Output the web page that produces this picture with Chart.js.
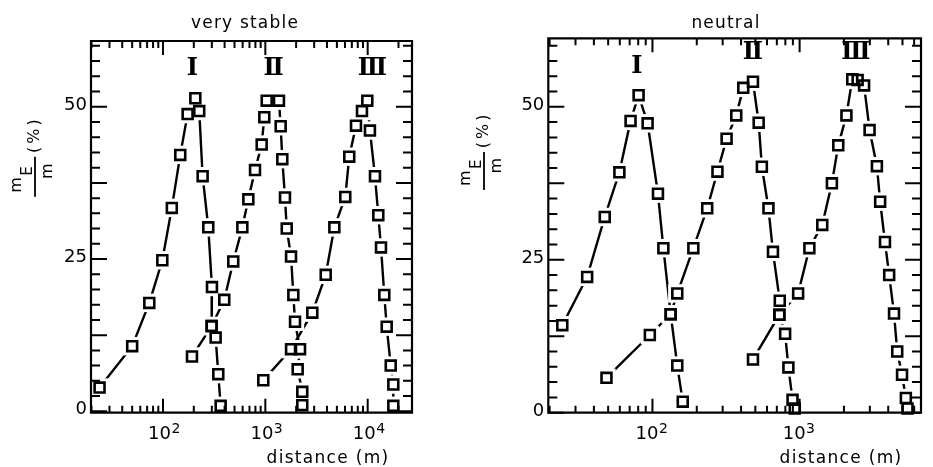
<!DOCTYPE html>
<html><head><meta charset="utf-8">
<script src="https://cdn.jsdelivr.net/npm/chart.js@4/dist/chart.umd.min.js"></script>
<style>
html,body{margin:0;padding:0;background:#fff;width:933px;height:467px;overflow:hidden;position:relative}
canvas{position:absolute;top:0}
#c1{left:0}
#c2{left:440px}
</style></head><body>
<canvas id="c1" width="440" height="467"></canvas>
<canvas id="c2" width="494" height="467"></canvas>
<script>
// ---------- DATA: "very stable" panel (distance in m, mE/m in %) ----------
const stableX1 = [24, 50, 73.5, 98.5, 122, 147.5, 174, 207, 226, 244, 277, 301, 299, 327, 347, 366];
const stableY1 = [3.9, 10.7, 17.8, 24.8, 33.4, 42.1, 48.8, 51.4, 49.3, 38.6, 30.2, 20.4, 14.0, 12.1, 6.1, 0.9];
const stableX2 = [192, 299, 397, 486, 596, 682, 793, 921, 977, 1031, 1359, 1412, 1465, 1556, 1618, 1783, 1877, 1950, 2183, 2070, 2296, 2296];
const stableY2 = [9.0, 14.0, 18.3, 24.6, 30.2, 34.8, 39.6, 43.8, 48.3, 51.0, 51.0, 46.8, 41.4, 35.1, 30.0, 25.4, 19.1, 14.7, 10.2, 6.9, 3.2, 1.0];
const stableX3 = [955, 1783, 2877, 3889, 4723, 6040, 6607, 7687, 8795, 9915, 10520, 11780, 12700, 13490, 14530, 15340, 16790, 17800, 17800];
const stableY3 = [5.1, 10.2, 16.2, 22.4, 30.2, 35.2, 41.8, 46.9, 49.3, 51.0, 46.1, 38.6, 32.2, 26.9, 19.1, 13.9, 7.5, 4.4, 0.9];

// ---------- DATA: "neutral" panel ----------
const neutralX1 = [24.4, 36, 47.4, 59.6, 71, 80.5, 92.7, 109, 118.6, 133, 147.5, 160.6];
const neutralY1 = [14.3, 22.2, 32.0, 39.3, 47.7, 51.9, 47.3, 35.8, 26.9, 16.1, 7.7, 1.8];
const neutralX2 = [48.7, 96, 133, 147.5, 189.6, 235.5, 276.5, 319, 371, 414, 482, 527, 554, 614, 659, 733, 728, 797, 839, 895, 927];
const neutralY2 = [5.7, 12.7, 16.1, 19.5, 26.9, 33.4, 39.4, 44.8, 48.6, 53.1, 54.1, 47.4, 40.2, 33.4, 26.3, 18.3, 16.0, 12.9, 7.4, 2.1, 0.7];
const neutralX3 = [482, 728, 977, 1165, 1425, 1657, 1831, 2080, 2277, 2478, 2742, 2988, 3351, 3525, 3802, 4060, 4380, 4605, 4965, 5270, 5410];
const neutralY3 = [8.7, 16.0, 19.5, 26.9, 30.7, 37.5, 43.7, 48.6, 54.5, 54.4, 53.5, 46.2, 40.3, 34.5, 27.9, 22.5, 16.2, 10.0, 6.2, 2.4, 0.7];

// ---------- Series names and their label anchors (data coordinates) ----------
const seriesNames = ['Ⅰ', 'Ⅱ', 'Ⅲ'];
const stableNameX = [194, 1202, 11140];
const stableNameY = [56.2, 56.2, 56.2];
const neutralNameX = [78.5, 482, 2411];
const neutralNameY = [56.5, 58.9, 58.9];

// ---------- Ticks ----------
const yTickLabels = [0, 25, 50];
const yMajorTicks = [0, 12.5, 25, 37.5, 50];
const yMinorTicks = [2.5, 5, 7.5, 10, 15, 17.5, 20, 22.5, 27.5, 30, 32.5, 35, 40, 42.5, 45, 47.5, 52.5, 55, 57.5, 60];
const stableMajorX = [100, 1000, 10000];
const stableMinorX = [20, 30, 40, 50, 60, 70, 80, 90, 200, 300, 400, 500, 600, 700, 800, 900, 2000, 3000, 4000, 5000, 6000, 7000, 8000, 9000, 20000];
const neutralMajorX = [100, 1000];
const neutralMinorX = [20, 30, 40, 50, 60, 70, 80, 90, 200, 300, 400, 500, 600, 700, 800, 900, 2000, 3000, 4000, 5000, 6000];

const FONT = '"DejaVu Sans", sans-serif';

function pts(xs, ys) { return xs.map((x, i) => ({ x: x, y: ys[i] })); }

function buildDatasets(list) {
  const out = [];
  list.forEach(s => {
    out.push({ data: s, order: 3, showLine: true, borderColor: '#000', borderWidth: 2.4,
      pointRadius: 0, tension: 0, clip: false, fill: false });
    out.push({ data: s, order: 2, showLine: false, pointStyle: 'rect', pointRadius: 13,
      pointBackgroundColor: '#fff', pointBorderColor: '#fff', pointBorderWidth: 0, clip: false });
    out.push({ data: s, order: 1, showLine: false, pointStyle: 'rect', pointRadius: 7,
      pointBackgroundColor: 'rgba(0,0,0,0)', pointBorderColor: '#000', pointBorderWidth: 2.6, clip: false });
  });
  return out;
}

function drawYTitle(ctx, x0, yb, L) {
  ctx.save();
  ctx.translate(x0, yb);
  ctx.rotate(-Math.PI / 2);
  ctx.strokeStyle = '#000'; ctx.fillStyle = '#000';
  ctx.lineWidth = 1.8;
  ctx.beginPath(); ctx.moveTo(0, 0); ctx.lineTo(L, 0); ctx.stroke();
  ctx.textBaseline = 'alphabetic';
  ctx.textAlign = 'left';
  ctx.font = '16px ' + FONT; ctx.fillText('m', 4, -14.5);
  ctx.font = '15px ' + FONT; ctx.fillText('E', 21, -3);
  ctx.font = '16px ' + FONT; ctx.textAlign = 'center'; ctx.fillText('m', L * 0.64, 16.5);
  ctx.textAlign = 'left'; ctx.letterSpacing = '3px';
  ctx.fillText('(%)', L + 3.7, 4);
  ctx.restore();
}

const decor = {
  id: 'decor',
  afterDatasetsDraw(chart, args, o) {
    const ctx = chart.ctx, a = chart.chartArea, xs = chart.scales.x, ys = chart.scales.y;
    ctx.save();
    ctx.strokeStyle = '#000'; ctx.fillStyle = '#000';
    ctx.lineWidth = 2.2;
    ctx.beginPath();
    ctx.rect(a.left, a.top, a.right - a.left, a.bottom - a.top);
    ctx.stroke();
    ctx.lineWidth = 2;
    ctx.beginPath();
    const tx = (v, len) => { const p = xs.getPixelForValue(v);
      ctx.moveTo(p, a.bottom); ctx.lineTo(p, a.bottom - len);
      ctx.moveTo(p, a.top); ctx.lineTo(p, a.top + len); };
    const ty = (v, len) => { const p = ys.getPixelForValue(v);
      ctx.moveTo(a.left, p); ctx.lineTo(a.left + len, p);
      ctx.moveTo(a.right, p); ctx.lineTo(a.right - len, p); };
    o.xMinor.forEach(v => tx(v, 7));
    o.xMajor.forEach(v => tx(v, 14));
    o.yMinor.forEach(v => ty(v, 9));
    o.yMajor.forEach(v => ty(v, 16));
    ctx.stroke();

    // y tick labels
    ctx.font = '18px ' + FONT; ctx.textAlign = 'right'; ctx.textBaseline = 'middle';
    o.yLabels.forEach(v => ctx.fillText(String(v), a.left - 4, ys.getPixelForValue(v) - 1.5));
    // x tick labels 10^n
    o.xMajor.forEach(v => {
      const p = xs.getPixelForValue(v);
      const e = Math.round(Math.log10(v));
      ctx.textBaseline = 'alphabetic';
      ctx.font = '18px ' + FONT; ctx.textAlign = 'right';
      ctx.fillText('10', p + o.expShift, a.bottom + 26.6);
      ctx.font = '14px ' + FONT; ctx.textAlign = 'left';
      ctx.fillText(String(e), p + o.expShift + 0.5, a.bottom + 20.6);
    });
    // series names
    ctx.font = 'bold 24px "DejaVu Serif", serif';
    ctx.textAlign = 'center'; ctx.textBaseline = 'middle';
    seriesNames.forEach((n, i) => ctx.fillText(n, xs.getPixelForValue(o.nameX[i]), ys.getPixelForValue(o.nameY[i])));
    // title
    ctx.font = '17px ' + FONT; ctx.textAlign = 'center'; ctx.textBaseline = 'alphabetic';
    ctx.letterSpacing = '1.2px';
    ctx.fillText(o.title, o.titleX, 28);
    ctx.letterSpacing = '1.3px';
    ctx.fillText('distance (m)', o.xTitleX, 463);
    ctx.letterSpacing = '0px';
    ctx.restore();
    drawYTitle(ctx, o.yTitle[0], o.yTitle[1], o.yTitle[2]);
  }
};

function makeChart(id, series, xr, yr, pad, deco) {
  return new Chart(document.getElementById(id), {
    type: 'line',
    data: { datasets: buildDatasets(series) },
    options: {
      responsive: false, animation: false, devicePixelRatio: 1, events: [],
      layout: { padding: pad },
      scales: {
        x: { type: 'logarithmic', min: xr[0], max: xr[1], display: false },
        y: { type: 'linear', min: yr[0], max: yr[1], display: false }
      },
      plugins: { legend: { display: false }, tooltip: { enabled: false }, decor: deco }
    },
    plugins: [decor]
  });
}

makeChart('c1',
  [pts(stableX1, stableY1), pts(stableX2, stableY2), pts(stableX3, stableY3)],
  [19.8, 27100], [-0.23, 60.8],
  { left: 91, right: 28, top: 41, bottom: 54.3 },
  { xMinor: stableMinorX, xMajor: stableMajorX, yMinor: yMinorTicks, yMajor: yMajorTicks,
    yLabels: yTickLabels, expShift: 8, nameX: stableNameX, nameY: stableNameY,
    title: 'very stable', titleX: 245, xTitleX: 328, yTitle: [35, 196.7, 40] });

makeChart('c2',
  [pts(neutralX1, neutralY1), pts(neutralX2, neutralY2), pts(neutralX3, neutralY3)],
  [19.6, 6680], [0, 61.2],
  { left: 108.3, right: 0, top: 38.3, bottom: 54.3 },
  { xMinor: neutralMinorX, xMajor: neutralMajorX, yMinor: yMinorTicks, yMajor: yMajorTicks,
    yLabels: yTickLabels, expShift: 6, nameX: neutralNameX, nameY: neutralNameY,
    title: 'neutral', titleX: 286, xTitleX: 401, yTitle: [44, 190, 38] });
</script>
</body></html>
